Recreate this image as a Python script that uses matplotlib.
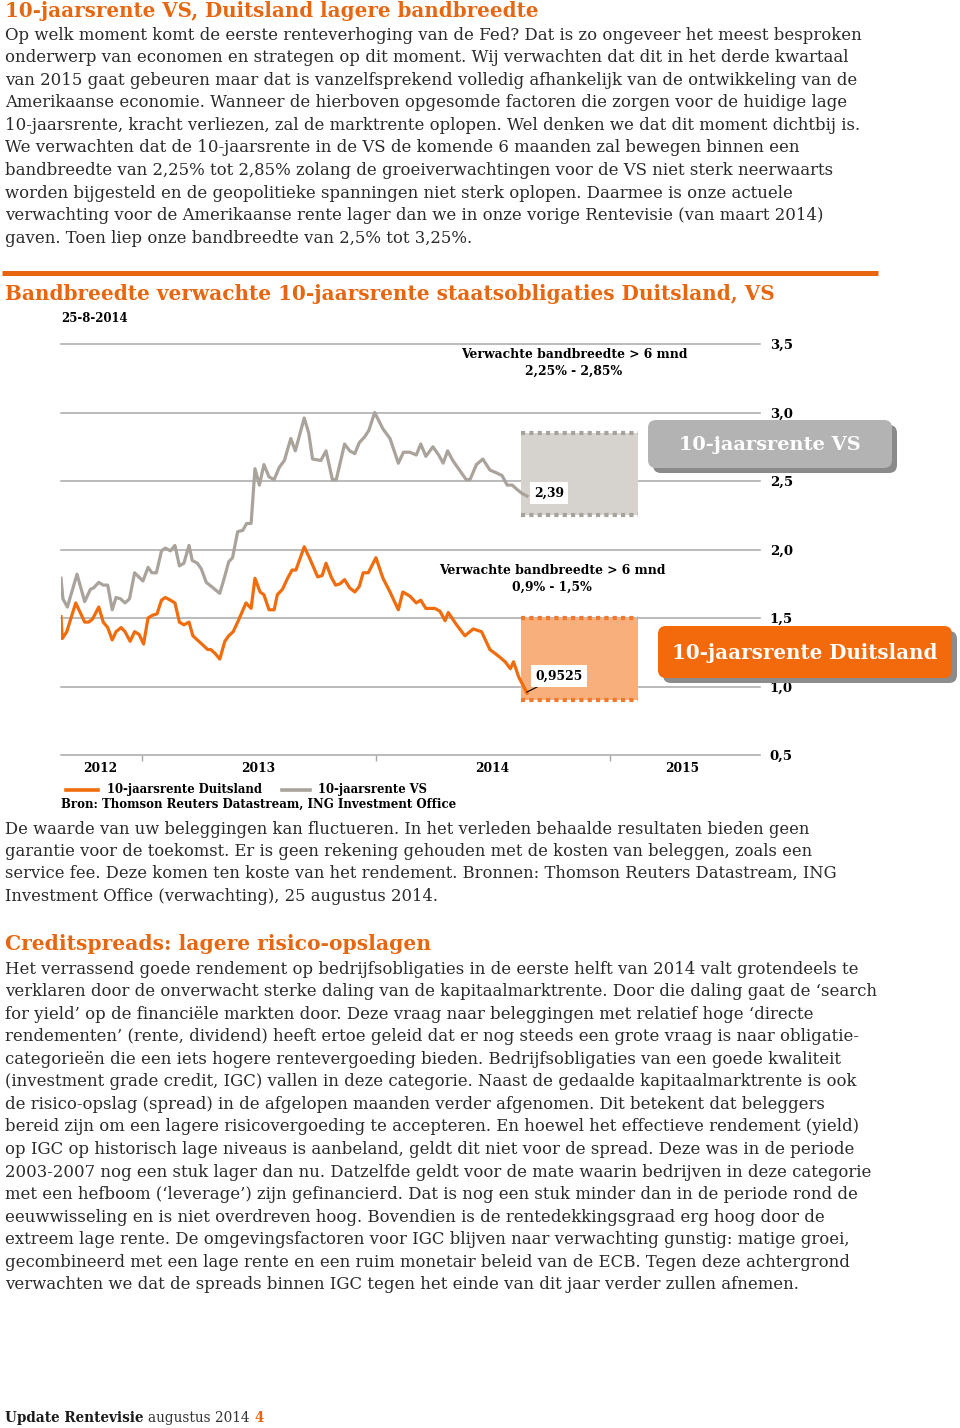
import numpy as np
import pandas as pd
import matplotlib.pyplot as plt
from matplotlib.patches import FancyBboxPatch

# weekly 10y yields, days counted from the first observation
start = pd.Timestamp('2012-08-27')
us_day = [0, 3, 10, 25, 37, 46, 51, 59, 66, 73, 80, 86, 93, 100, 107, 115, 128, 136, 142, 149,
          157, 163, 171, 178, 185, 192, 200, 205, 213, 219, 227, 235, 248, 255, 262, 268, 276, 284,
          290, 297, 303, 310, 317, 325, 333, 341, 349, 359, 366, 380, 387, 393, 406, 414, 424, 430,
          443, 451, 459, 466, 474, 481, 490, 503, 514, 527, 535, 545, 555, 562, 570, 581, 590, 597,
          604, 612, 621, 633, 639, 649, 659, 670, 680, 689, 697, 705, 712, 720, 728]
us_rente = [1.79, 1.64, 1.58, 1.82, 1.62, 1.71, 1.72, 1.76, 1.74, 1.74, 1.56, 1.65, 1.64, 1.61, 1.64,
            1.83, 1.77, 1.87, 1.83, 1.83, 1.99, 2.01, 1.99, 2.03, 1.88, 1.90, 2.03, 1.92, 1.90, 1.86,
            1.76, 1.73, 1.68, 1.79, 1.91, 1.94, 2.13, 2.14, 2.19, 2.19, 2.59, 2.47, 2.62, 2.53, 2.51,
            2.60, 2.65, 2.81, 2.72, 2.96, 2.85, 2.66, 2.65, 2.72, 2.51, 2.51, 2.77, 2.72, 2.70, 2.78,
            2.82, 2.87, 3.00, 2.88, 2.81, 2.63, 2.71, 2.71, 2.69, 2.77, 2.68, 2.75, 2.69, 2.63, 2.72,
            2.65, 2.59, 2.51, 2.51, 2.62, 2.66, 2.58, 2.56, 2.54, 2.47, 2.47, 2.44, 2.41, 2.39]
de_day = [0, 2, 9, 23, 37, 43, 49, 59, 66, 73, 80, 86, 94, 100, 108, 115, 122, 129, 136, 143, 150,
          157, 163, 171, 178, 185, 192, 200, 206, 213, 220, 229, 234, 241, 248, 256, 262, 269, 277,
          289, 297, 303, 311, 317, 325, 333, 338, 346, 354, 361, 367, 380, 389, 401, 408, 414, 422,
          429, 436, 443, 451, 459, 466, 472, 480, 492, 503, 514, 527, 534, 545, 555, 562, 570, 584,
          592, 600, 605, 618, 631, 644, 657, 670, 684, 694, 702, 707, 715, 728]
de_rente = [1.51, 1.35, 1.40, 1.61, 1.47, 1.47, 1.49, 1.58, 1.47, 1.43, 1.34, 1.40, 1.43, 1.40, 1.33,
            1.40, 1.38, 1.31, 1.50, 1.52, 1.53, 1.63, 1.65, 1.63, 1.61, 1.47, 1.45, 1.47, 1.37, 1.34,
            1.31, 1.27, 1.27, 1.24, 1.20, 1.33, 1.37, 1.40, 1.48, 1.61, 1.57, 1.79, 1.69, 1.67, 1.56,
            1.56, 1.67, 1.71, 1.79, 1.85, 1.85, 2.02, 1.93, 1.80, 1.81, 1.90, 1.80, 1.74, 1.75, 1.78,
            1.72, 1.69, 1.73, 1.83, 1.83, 1.94, 1.79, 1.69, 1.56, 1.69, 1.66, 1.61, 1.63, 1.57, 1.57,
            1.55, 1.48, 1.54, 1.45, 1.37, 1.42, 1.40, 1.27, 1.22, 1.18, 1.13, 1.18, 1.07, 0.9525]

us_band = (2.25, 2.85)
de_band = (0.9, 1.5)
band_van, band_tot = pd.Timestamp('2014-08-15'), pd.Timestamp('2015-02-15')
yticks = [0.5, 1.0, 1.5, 2.0, 2.5, 3.0, 3.5]
jaren = ['2012', '2013', '2014', '2015']
jaar_pos = ['2012-10-27', '2013-07-01', '2014-07-01', '2015-04-25']
jaar_grens = ['2013-01-01', '2014-01-01', '2015-01-01']

titel = '10-jaarsrente VS, Duitsland lagere bandbreedte'
intro = [
    'Op welk moment komt de eerste renteverhoging van de Fed? Dat is zo ongeveer het meest besproken',
    'onderwerp van economen en strategen op dit moment. Wij verwachten dat dit in het derde kwartaal',
    'van 2015 gaat gebeuren maar dat is vanzelfsprekend volledig afhankelijk van de ontwikkeling van de',
    'Amerikaanse economie. Wanneer de hierboven opgesomde factoren die zorgen voor de huidige lage',
    '10-jaarsrente, kracht verliezen, zal de marktrente oplopen. Wel denken we dat dit moment dichtbij is.',
    'We verwachten dat de 10-jaarsrente in de VS de komende 6 maanden zal bewegen binnen een',
    'bandbreedte van 2,25% tot 2,85% zolang de groeiverwachtingen voor de VS niet sterk neerwaarts',
    'worden bijgesteld en de geopolitieke spanningen niet sterk oplopen. Daarmee is onze actuele',
    'verwachting voor de Amerikaanse rente lager dan we in onze vorige Rentevisie (van maart 2014)',
    'gaven. Toen liep onze bandbreedte van 2,5% tot 3,25%.']
intro_end = [868, 843, 852, 863, 853, 806, 829, 795, 821, 473]
grafiek_titel = 'Bandbreedte verwachte 10-jaarsrente staatsobligaties Duitsland, VS'
disclaimer = [
    'De waarde van uw beleggingen kan fluctueren. In het verleden behaalde resultaten bieden geen',
    'garantie voor de toekomst. Er is geen rekening gehouden met de kosten van beleggen, zoals een',
    'service fee. Deze komen ten koste van het rendement. Bronnen: Thomson Reuters Datastream, ING',
    'Investment Office (verwachting), 25 augustus 2014.']
disclaimer_end = [816, 822, 836, 432]
kop2 = 'Creditspreads: lagere risico-opslagen'
credit = [
    'Het verrassend goede rendement op bedrijfsobligaties in de eerste helft van 2014 valt grotendeels te',
    'verklaren door de onverwacht sterke daling van de kapitaalmarktrente. Door die daling gaat de \u2018search',
    'for yield\u2019 op de financi\u00eble markten door. Deze vraag naar beleggingen met relatief hoge \u2018directe',
    'rendementen\u2019 (rente, dividend) heeft ertoe geleid dat er nog steeds een grote vraag is naar obligatie-',
    'categorie\u00ebn die een iets hogere rentevergoeding bieden. Bedrijfsobligaties van een goede kwaliteit',
    '(investment grade credit, IGC) vallen in deze categorie. Naast de gedaalde kapitaalmarktrente is ook',
    'de risico-opslag (spread) in de afgelopen maanden verder afgenomen. Dit betekent dat beleggers',
    'bereid zijn om een lagere risicovergoeding te accepteren. En hoewel het effectieve rendement (yield)',
    'op IGC op historisch lage niveaus is aanbeland, geldt dit niet voor de spread. Deze was in de periode',
    '2003-2007 nog een stuk lager dan nu. Datzelfde geldt voor de mate waarin bedrijven in deze categorie',
    'met een hefboom (\u2018leverage\u2019) zijn gefinancierd. Dat is nog een stuk minder dan in de periode rond de',
    'eeuwwisseling en is niet overdreven hoog. Bovendien is de rentedekkingsgraad erg hoog door de',
    'extreem lage rente. De omgevingsfactoren voor IGC blijven naar verwachting gunstig: matige groei,',
    'gecombineerd met een lage rente en een ruim monetair beleid van de ECB. Tegen deze achtergrond',
    'verwachten we dat de spreads binnen IGC tegen het einde van dit jaar verder zullen afnemen.']
credit_end = [853, 873, 815, 858, 843, 854, 833, 862, 857, 866, 858, 832, 850, 858, 797]

ORANJE = '#E8660F'
LIJN_OR = '#F06C0C'
LIJN_GR = '#A9A39C'
SERIF = 'DejaVu Serif'

fig = plt.figure(figsize=(9.6, 14.28), dpi=100)
r = fig.canvas.get_renderer()


def fit(s, w, **kw):
    t = fig.text(0, 0, s, fontsize=10, **kw)
    bw = t.get_window_extent(r).width
    t.remove()
    return 10 * w / bw


# --- chart ---
ax = fig.add_axes([61/960, 1-755/1428, 699/960, 411/1428])
for y in yticks:
    ax.axhline(y, color='#A8A8A8', lw=1.1, clip_on=False, zorder=0)
ax.fill_between([band_van, band_tot], us_band[0], us_band[1], color='#D6D2CD', lw=0, zorder=1)
ax.hlines(us_band, band_van, band_tot, colors='#A7A29C', lw=3, linestyles=(0, (1, 1)), zorder=2)
ax.fill_between([band_van, band_tot], de_band[0], de_band[1], color='#F9AF7C', lw=0, zorder=1)
ax.hlines(de_band, band_van, band_tot, colors='#F2782A', lw=3, linestyles=(0, (1, 1)), zorder=2)

ax.plot(start + pd.to_timedelta(us_day, unit='D'), us_rente, color=LIJN_GR, lw=2.3, zorder=3)
ax.plot(start + pd.to_timedelta(de_day, unit='D'), de_rente, color=LIJN_OR, lw=2.3, zorder=3)

ax.set_xlim(start, pd.Timestamp('2015-08-24'))
ax.set_ylim(0.5, 3.5)
for s in ax.spines.values():
    s.set_visible(False)
ax.yaxis.tick_right()
ax.set_yticks(yticks)
fs_tick = fit('3,5', 23, family=SERIF, weight='bold')
ax.set_yticklabels([f'{v:.1f}'.replace('.', ',') for v in yticks],
                   fontsize=fs_tick, family=SERIF, weight='bold')
ax.tick_params(axis='y', length=0, pad=7)
ax.set_xticks(pd.to_datetime(jaar_grens))
ax.set_xticklabels([])
ax.tick_params(axis='x', length=4, width=1, color='#A8A8A8', direction='out')
ax.patch.set_alpha(0)
fs_jaar = fit('2012', 34, family=SERIF, weight='bold')
for j, p in zip(jaren, jaar_pos):
    ax.text(pd.Timestamp(p), -13/411, j, transform=ax.get_xaxis_transform(), ha='center', va='center',
            fontsize=fs_jaar, family=SERIF, weight='bold')

# --- page overlay in pixel units ---
pg = fig.add_axes([0, 0, 1, 1])
pg.set_xlim(0, 960)
pg.set_ylim(1428, 0)
pg.axis('off')


def block(lines, ends, y0, step):
    sizes = [fit(s, e - 5, family=SERIF) for s, e in zip(lines, ends)]
    fs = np.median(sizes)
    for i, s in enumerate(lines):
        pg.text(5, y0 + i * step, s, fontsize=fs, family=SERIF, color='#2A2A2A', va='center')


def kop(s, w, y, **kw):
    pg.text(5, y, s, fontsize=fit(s, w, family=SERIF, weight='bold'), family=SERIF, weight='bold',
            color=ORANJE, va='center', **kw)


kop(titel, 535, 11)
block(intro, intro_end, 35, 22.6)
pg.plot([2, 878], [273, 273], color=ORANJE, lw=3.6, solid_capstyle='butt')
kop(grafiek_titel, 767, 294)
pg.text(61, 318, '25-8-2014', fontsize=fit('25-8-2014', 66, family=SERIF, weight='bold'),
        family=SERIF, weight='bold', va='center')

fs_ann = fit('Verwachte bandbreedte > 6 mnd', 227, family=SERIF, weight='bold')
pg.text(574, 355, 'Verwachte bandbreedte > 6 mnd', fontsize=fs_ann, family=SERIF, weight='bold',
        ha='center', va='center')
pg.text(574, 371, '2,25% - 2,85%', fontsize=fs_ann, family=SERIF, weight='bold', ha='center', va='center')
pg.text(552, 571, 'Verwachte bandbreedte > 6 mnd', fontsize=fs_ann, family=SERIF, weight='bold',
        ha='center', va='center')
pg.text(552, 587, '0,9% - 1,5%', fontsize=fs_ann, family=SERIF, weight='bold', ha='center', va='center')

# end values
pg.text(534, 493, f'{us_rente[-1]:.2f}'.replace('.', ','), fontsize=fs_ann, family=SERIF, weight='bold',
        va='center', bbox=dict(fc='white', ec='none', pad=3))
pg.plot([527, 541], [692, 685], color='black', lw=0.8)
pg.text(535, 676, f'{de_rente[-1]:.4f}'.replace('.', ','), fontsize=fs_ann, family=SERIF, weight='bold',
        va='center', bbox=dict(fc='white', ec='none', pad=3))


def label_box(x0, y0, x1, y1, fc, sc, txt, tw):
    pg.add_patch(FancyBboxPatch((x0 + 5, y0 + 5), x1 - x0, y1 - y0, boxstyle='round,pad=0,rounding_size=8',
                                fc=sc, ec='none'))
    pg.add_patch(FancyBboxPatch((x0, y0), x1 - x0, y1 - y0, boxstyle='round,pad=0,rounding_size=8',
                                fc=fc, ec='none'))
    pg.text((x0 + x1) / 2, (y0 + y1) / 2 + 1, txt, fontsize=fit(txt, tw, family=SERIF, weight='bold'),
            family=SERIF, weight='bold', color='white', ha='center', va='center')


label_box(648, 420, 892, 468, '#B3B3B3', '#8A8A8A', '10-jaarsrente VS', 182)
label_box(658, 626, 952, 678, '#F26A0C', '#8C8C8C', '10-jaarsrente Duitsland', 266)

# legend + source
fs_leg = fit('10-jaarsrente Duitsland', 156, family=SERIF, weight='bold')
pg.plot([66, 98], [790, 790], color=LIJN_OR, lw=2.6)
pg.text(107, 789, '10-jaarsrente Duitsland', fontsize=fs_leg, family=SERIF, weight='bold', va='center')
pg.plot([282, 310], [790, 790], color=LIJN_GR, lw=2.6)
pg.text(318, 789, '10-jaarsrente VS', fontsize=fs_leg, family=SERIF, weight='bold', va='center')
bron = 'Bron: Thomson Reuters Datastream, ING Investment Office'
pg.text(61, 804, bron, fontsize=fit(bron, 397, family=SERIF, weight='bold'), family=SERIF,
        weight='bold', va='center')

block(disclaimer, disclaimer_end, 829, 22.4)
kop(kop2, 427, 944)
block(credit, credit_end, 969, 22.57)

# footer
fs_f = fit('Update Rentevisie augustus 2014 4', 247, family=SERIF)
x = 5
for s, w, c in [('Update Rentevisie ', 'bold', '#1A1A1A'), ('augustus 2014 ', 'normal', '#333333'),
                ('4', 'bold', ORANJE)]:
    t = pg.text(x, 1418, s, fontsize=fs_f, family=SERIF, weight=w, color=c, va='center')
    x += t.get_window_extent(r).width

fig.savefig('out.png', dpi=100)
